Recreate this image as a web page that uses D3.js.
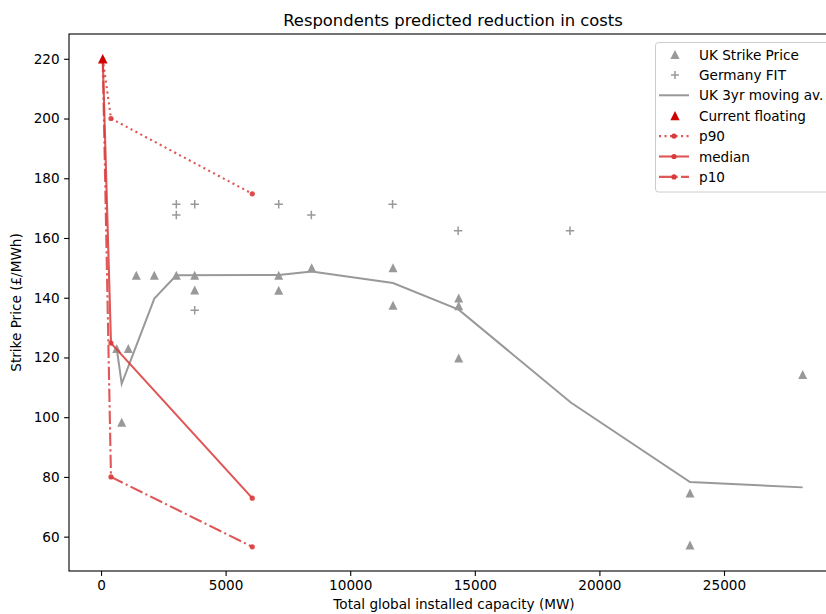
<!DOCTYPE html>
<html><head><meta charset="utf-8">
<script src="https://cdn.jsdelivr.net/npm/d3@7"></script>
<style>body{margin:0;background:#fff}svg{display:block}text{font-family:"DejaVu Sans",sans-serif;fill:#000}</style>
</head><body><svg id="c" width="826" height="614"></svg>
<script>
// UK strike price points
const ukX = [630, 1095, 830, 1416, 2139, 3022, 3760, 3760, 7131, 7131, 8455, 11717, 11717, 14354, 14354, 14354, 23636, 23636, 28158];
const ukY = [123, 123, 98.3, 147.5, 147.5, 147.5, 147.5, 142.6, 147.5, 142.5, 150, 150, 137.5, 139.9, 137.3, 119.8, 74.6, 57.2, 114.3];
// Germany FIT points
const deX = [3022, 3022, 3760, 3760, 7131, 8440, 11700, 14330, 18820];
const deY = [171.3, 167.7, 171.3, 135.8, 171.3, 167.7, 171.3, 162.4, 162.4];
// UK 3yr moving average
const maX = [630, 830, 2139, 3022, 7131, 8455, 11717, 14354, 18853, 23636, 28158];
const maY = [123, 111.2, 139.7, 147.5, 147.6, 148.8, 144.9, 136, 104.9, 78.3, 76.5];
// current floating
const curX = [70], curY = [220];
// respondent predictions
const predX = [70, 400, 6070];
const p90 = [220, 200, 174.8];
const median = [220, 124.8, 72.9];
const p10 = [220, 80, 56.6];
const xTicks = [0, 5000, 10000, 15000, 20000, 25000];
const yTicks = [60, 80, 100, 120, 140, 160, 180, 200, 220];

const svg = d3.select("#c");
const L = 69, R = 839, T = 34, B = 571;
const x = d3.scaleLinear().domain([-1285, 29615]).range([L, R]);
const y = d3.scaleLinear().domain([48.5, 228.3]).range([B, T]);
const gray = "#999999", red = "#d00000", lred = "#d93a3a";

svg.append("defs").append("clipPath").attr("id", "clip").append("rect")
  .attr("x", L).attr("y", T).attr("width", R - L).attr("height", B - T);
const g = svg.append("g").attr("clip-path", "url(#clip)");

function triPath(cx, cy, s) { return `M${cx},${cy - s}L${cx - s},${cy + s}L${cx + s},${cy + s}Z`; }

// moving average
const line = d3.line().x(d => x(d[0])).y(d => y(d[1]));
g.append("path").datum(d3.zip(maX, maY)).attr("d", line)
  .attr("fill", "none").attr("stroke", gray).attr("stroke-width", 2);

// UK triangles
g.selectAll(".uk").data(d3.zip(ukX, ukY)).join("path")
  .attr("d", d => triPath(x(d[0]), y(d[1]), 4.5)).attr("fill", gray);
// Germany crosses
g.selectAll(".de").data(d3.zip(deX, deY)).join("path")
  .attr("d", d => { const cx = x(d[0]), cy = y(d[1]); return `M${cx - 4.2},${cy}H${cx + 4.2}M${cx},${cy - 4.2}V${cy + 4.2}`; })
  .attr("stroke", gray).attr("stroke-width", 1.5).attr("fill", "none");

// predictions
const series = [
  { v: p90, dash: "2.1,3.4" },
  { v: median, dash: null },
  { v: p10, dash: "13.3,3.3,2.1,3.3" }
];
series.forEach(s => {
  const pts = d3.zip(predX, s.v);
  g.append("path").datum(pts).attr("d", line).attr("fill", "none")
    .attr("stroke", lred).attr("stroke-width", 2.1).attr("stroke-opacity", 0.85)
    .attr("stroke-dasharray", s.dash);
  g.selectAll(null).data(pts.slice(1)).join("circle")
    .attr("cx", d => x(d[0])).attr("cy", d => y(d[1])).attr("r", 2.6)
    .attr("fill", lred).attr("fill-opacity", 0.9);
});
// current floating
g.selectAll(".cur").data(d3.zip(curX, curY)).join("path")
  .attr("d", d => triPath(x(d[0]), y(d[1]), 4.8)).attr("fill", red);

// axes
const xa = svg.append("g").attr("transform", `translate(0,${B})`)
  .call(d3.axisBottom(x).tickValues(xTicks).tickFormat(d3.format("d")).tickSize(4.9).tickPadding(4.5));
const ya = svg.append("g").attr("transform", `translate(${L},0)`)
  .call(d3.axisLeft(y).tickValues(yTicks).tickFormat(d3.format("d")).tickSize(4.9).tickPadding(4.5));
[xa, ya].forEach(a => {
  a.select(".domain").remove();
  a.selectAll("line").attr("stroke", "#000").attr("stroke-width", 1.1);
  a.selectAll("text").style("font-size", "13.6px").attr("fill", "#000");
});
svg.append("rect").attr("x", L).attr("y", T).attr("width", R - L).attr("height", B - T)
  .attr("fill", "none").attr("stroke", "#000").attr("stroke-width", 1.1);

// labels
svg.append("text").attr("x", (L + R) / 2 - 1).attr("y", 26).attr("text-anchor", "middle")
  .style("font-size", "16.4px").text("Respondents predicted reduction in costs");
svg.append("text").attr("x", (L + R) / 2).attr("y", 609).attr("text-anchor", "middle")
  .style("font-size", "13.6px").text("Total global installed capacity (MW)");
svg.append("text").attr("transform", `translate(21,${(T + B) / 2}) rotate(-90)`).attr("text-anchor", "middle")
  .style("font-size", "13.6px").text("Strike Price (£/MWh)");

// legend
const leg = svg.append("g");
leg.append("rect").attr("x", 655.5).attr("y", 42.5).attr("width", 200).attr("height", 149.5).attr("rx", 3)
  .attr("fill", "#fff").attr("fill-opacity", 0.8).attr("stroke", "#cccccc").attr("stroke-width", 1);
const items = [
  { t: "UK Strike Price", k: "tri", c: gray },
  { t: "Germany FIT", k: "plus", c: gray },
  { t: "UK 3yr moving av.", k: "line", c: gray },
  { t: "Current floating", k: "tri", c: red },
  { t: "p90", k: "pl", c: lred, dash: "2.1,3.4" },
  { t: "median", k: "pl", c: lred, dash: null },
  { t: "p10", k: "pl", c: lred, dash: "13.3,3.3,2.1,3.3" }
];
items.forEach((it, i) => {
  const cy = 54.5 + i * 20.4;
  if (it.k === "tri") leg.append("path").attr("d", triPath(675, cy, 4.6)).attr("fill", it.c);
  if (it.k === "plus") leg.append("path").attr("d", `M${671},${cy}H${679}M675,${cy - 4}V${cy + 4}`).attr("stroke", it.c).attr("stroke-width", 1.5);
  if (it.k === "line") leg.append("line").attr("x1", 659).attr("x2", 689).attr("y1", cy).attr("y2", cy).attr("stroke", it.c).attr("stroke-width", 2);
  if (it.k === "pl") {
    leg.append("line").attr("x1", 659).attr("x2", 689).attr("y1", cy).attr("y2", cy).attr("stroke", it.c)
      .attr("stroke-width", 2.1).attr("stroke-dasharray", it.dash).attr("stroke-opacity", 0.85);
    leg.append("circle").attr("cx", 674).attr("cy", cy).attr("r", 2.6).attr("fill", it.c);
  }
  leg.append("text").attr("x", 699).attr("y", cy + 5).style("font-size", "13.6px").text(it.t);
});
</script></body></html>
